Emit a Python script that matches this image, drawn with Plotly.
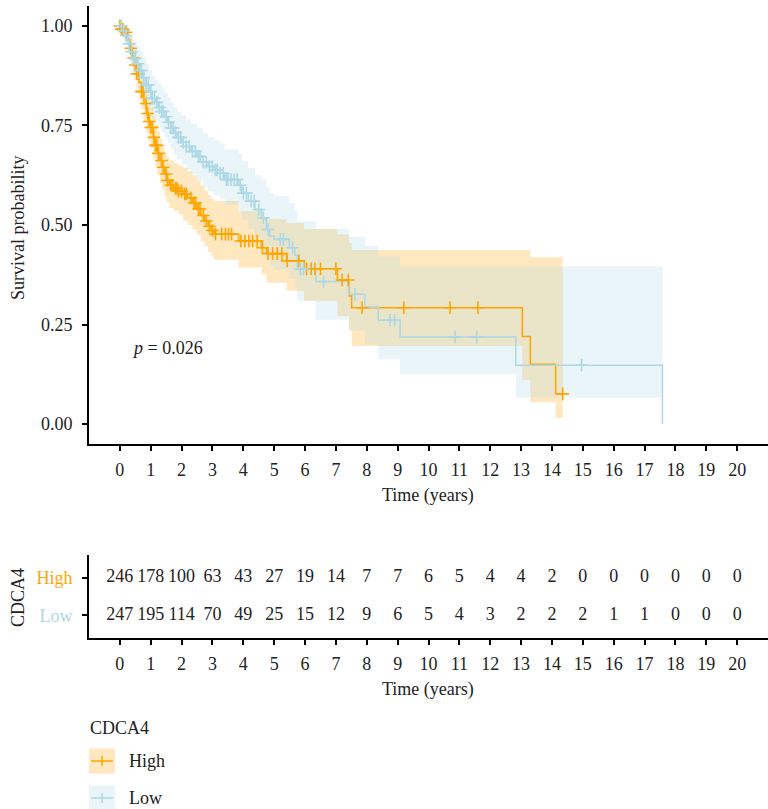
import plotly.graph_objects as go

# ---- Kaplan-Meier estimates: CDCA4 High ----
high_time = [0, 0.05, 0.15, 0.25, 0.32, 0.40, 0.46, 0.54, 0.62, 0.70, 0.78, 0.86, 0.93, 1.00,
             1.08, 1.15, 1.22, 1.30, 1.37, 1.45, 1.52, 1.60, 1.75, 1.90, 2.05, 2.20, 2.35, 2.50,
             2.62, 2.75, 2.86, 2.96, 3.05, 3.85, 4.59, 4.75, 5.40, 5.97, 7.05, 7.43, 7.51,
             13.04, 13.30, 14.12]
high_surv = [1.0, 0.992, 0.984, 0.965, 0.944, 0.92, 0.902, 0.88, 0.858, 0.835, 0.805, 0.78, 0.76, 0.745,
             0.72, 0.70, 0.68, 0.662, 0.645, 0.628, 0.612, 0.60, 0.592, 0.585, 0.578, 0.568, 0.556, 0.54,
             0.524, 0.51, 0.497, 0.486, 0.477, 0.46, 0.443, 0.428, 0.41, 0.39, 0.362, 0.322, 0.292,
             0.22, 0.15, 0.076]
high_upper = [1.0, 1.0, 0.998, 0.99, 0.975, 0.955, 0.94, 0.92, 0.90, 0.88, 0.855, 0.83, 0.81, 0.795,
              0.773, 0.753, 0.735, 0.717, 0.70, 0.685, 0.672, 0.662, 0.655, 0.649, 0.643, 0.635, 0.625, 0.612,
              0.598, 0.585, 0.575, 0.565, 0.56, 0.535, 0.52, 0.515, 0.505, 0.49, 0.476, 0.455, 0.437,
              0.437, 0.419, 0.419]
high_lower = [1.0, 0.977, 0.962, 0.937, 0.912, 0.885, 0.865, 0.84, 0.815, 0.79, 0.758, 0.73, 0.71, 0.693,
              0.667, 0.647, 0.625, 0.606, 0.59, 0.572, 0.556, 0.543, 0.535, 0.527, 0.51, 0.50, 0.488, 0.476,
              0.46, 0.447, 0.432, 0.42, 0.413, 0.393, 0.376, 0.355, 0.335, 0.31, 0.271, 0.235, 0.196,
              0.111, 0.055, 0.015]
high_end = 14.35
high_censor = [0.0, 0.05, 0.1, 0.2, 0.35, 0.45, 0.5, 0.55, 0.6, 0.7, 0.75, 0.85, 0.9, 0.95, 1.0, 1.05,
               1.1, 1.15, 1.2, 1.25, 1.35, 1.4, 1.5, 1.55, 1.65, 1.7, 1.8, 1.85, 1.9, 2.0, 2.1, 2.15,
               2.3, 2.4, 2.45, 2.55, 2.6, 2.7, 2.8, 2.9, 3.0, 3.1, 3.3, 3.42, 3.52, 3.62, 3.92, 4.05,
               4.18, 4.3, 4.45, 4.62, 4.8, 4.95, 5.1, 5.25, 5.42, 5.8, 6.05, 6.2, 6.32, 6.5, 7.0, 7.2,
               7.4, 7.85, 9.2, 10.7, 11.6, 14.35]

# ---- Kaplan-Meier estimates: CDCA4 Low ----
low_time = [0, 0.08, 0.15, 0.25, 0.35, 0.45, 0.55, 0.65, 0.75, 0.85, 0.95, 1.05, 1.15, 1.25, 1.35,
            1.45, 1.55, 1.65, 1.75, 1.85, 2.0, 2.15, 2.3, 2.5, 2.7, 2.86, 3.05, 3.25, 3.4, 3.85, 3.95,
            4.16, 4.38, 4.59, 4.75, 4.86, 5.0, 5.49, 5.67, 5.75, 6.35, 7.42, 7.94, 8.37, 9.08,
            12.83, 17.58]
low_surv = [1.0, 0.988, 0.976, 0.955, 0.935, 0.918, 0.905, 0.888, 0.87, 0.852, 0.835, 0.818, 0.808, 0.795,
            0.785, 0.772, 0.758, 0.744, 0.732, 0.72, 0.708, 0.697, 0.685, 0.672, 0.658, 0.647, 0.638, 0.63,
            0.614, 0.60, 0.58, 0.56, 0.539, 0.518, 0.489, 0.472, 0.464, 0.443, 0.424, 0.389, 0.358,
            0.326, 0.294, 0.261, 0.219, 0.148, 0.0]
low_upper = [1.0, 1.0, 0.995, 0.985, 0.97, 0.96, 0.95, 0.937, 0.922, 0.906, 0.89, 0.875, 0.865, 0.855,
             0.845, 0.833, 0.82, 0.807, 0.797, 0.785, 0.775, 0.765, 0.755, 0.743, 0.73, 0.72, 0.712, 0.705,
             0.69, 0.68, 0.66, 0.643, 0.625, 0.615, 0.595, 0.58, 0.573, 0.555, 0.535, 0.51, 0.49,
             0.47, 0.447, 0.42, 0.396, 0.396, None]
low_lower = [1.0, 0.975, 0.96, 0.93, 0.905, 0.885, 0.87, 0.85, 0.828, 0.808, 0.79, 0.77, 0.758, 0.745,
             0.733, 0.72, 0.705, 0.69, 0.677, 0.665, 0.652, 0.64, 0.627, 0.612, 0.597, 0.585, 0.575, 0.566,
             0.55, 0.535, 0.513, 0.49, 0.468, 0.445, 0.415, 0.397, 0.388, 0.365, 0.345, 0.31, 0.262,
             0.235, 0.2, 0.163, 0.125, 0.067, None]
low_end = 17.58
low_censor = [0.05, 0.12, 0.2, 0.3, 0.38, 0.45, 0.5, 0.58, 0.65, 0.7, 0.78, 0.85, 0.92, 1.0, 1.05, 1.12,
              1.2, 1.28, 1.35, 1.4, 1.5, 1.58, 1.65, 1.72, 1.8, 1.9, 1.97, 2.05, 2.15, 2.25, 2.35, 2.45,
              2.55, 2.6, 2.7, 2.8, 2.9, 3.0, 3.1, 3.15, 3.25, 3.35, 3.45, 3.5, 3.6, 3.7, 3.8, 3.9, 4.0,
              4.1, 4.25, 4.35, 4.5, 4.65, 4.8, 5.2, 5.3, 5.6, 5.85, 5.95, 6.6, 7.62, 8.75, 8.9, 10.86,
              11.56, 14.96]

# ---- Number at risk ----
years = list(range(0, 21))
risk_high = [246, 178, 100, 63, 43, 27, 19, 14, 7, 7, 6, 5, 4, 4, 2, 0, 0, 0, 0, 0, 0]
risk_low = [247, 195, 114, 70, 49, 25, 15, 12, 9, 6, 5, 4, 3, 2, 2, 2, 1, 1, 0, 0, 0]

p_label = "<i>p</i> = 0.026"

ORANGE = "#FFA500"
LBLUE = "#ADD8E6"
ORANGE_FILL = "rgba(255,165,0,0.25)"
LBLUE_FILL = "rgba(173,216,230,0.25)"
TXT = "#222222"
FONT = "Liberation Serif"
FS = 18

W, H = 768, 809


def px_x(p):
    return p / W


def px_y(p):
    return (H - p) / H


def step_at(times, vals, t):
    v = vals[0]
    for tt, vv in zip(times, vals):
        if tt <= t:
            v = vv
        else:
            break
    return v


def curve_xy(times, surv, end):
    xs, ys = list(times), list(surv)
    if end > xs[-1]:
        xs.append(end)
        ys.append(ys[-1])
    return xs, ys


def band_xy(times, upper, lower, end):
    xs = [t for t, u in zip(times, upper) if u is not None]
    up = [u for u in upper if u is not None]
    lo = [l for l in lower if l is not None]
    xs.append(end)
    up.append(up[-1])
    lo.append(lo[-1])
    return xs, up, lo


fig = go.Figure()

groups = [
    ("High", high_time, high_surv, high_upper, high_lower, high_end, high_censor, ORANGE, ORANGE_FILL),
    ("Low", low_time, low_surv, low_upper, low_lower, low_end, low_censor, LBLUE, LBLUE_FILL),
]

# confidence bands
for name, t, s, u, l, end, cens, col, fill in groups:
    bx, bu, bl = band_xy(t, u, l, end)
    fig.add_trace(go.Scatter(x=bx, y=bl, mode="lines", line=dict(width=0, shape="hv"),
                             hoverinfo="skip", showlegend=False, xaxis="x", yaxis="y"))
    fig.add_trace(go.Scatter(x=bx, y=bu, mode="lines", line=dict(width=0, shape="hv"),
                             fill="tonexty", fillcolor=fill, hoverinfo="skip",
                             showlegend=False, xaxis="x", yaxis="y"))

# survival curves
for name, t, s, u, l, end, cens, col, fill in groups:
    cx, cy = curve_xy(t, s, end)
    fig.add_trace(go.Scatter(x=cx, y=cy, mode="lines", line=dict(color=col, width=1.5, shape="hv"),
                             name=name, showlegend=False, xaxis="x", yaxis="y"))

# censoring marks
for name, t, s, u, l, end, cens, col, fill in groups:
    fig.add_trace(go.Scatter(x=cens, y=[step_at(t, s, c) for c in cens], mode="markers",
                             marker=dict(symbol="cross-thin", size=9, line=dict(color=col, width=1.6)),
                             showlegend=False, xaxis="x", yaxis="y"))

# risk table
fig.add_trace(go.Scatter(x=years, y=[1] * len(years), mode="text", text=[str(v) for v in risk_high],
                         textfont=dict(family=FONT, size=FS, color=TXT), showlegend=False,
                         xaxis="x2", yaxis="y2"))
fig.add_trace(go.Scatter(x=years, y=[0] * len(years), mode="text", text=[str(v) for v in risk_low],
                         textfont=dict(family=FONT, size=FS, color=TXT), showlegend=False,
                         xaxis="x2", yaxis="y2"))

axis_common = dict(showline=True, linecolor="black", linewidth=2, ticks="outside", ticklen=5,
                   tickwidth=2, tickcolor="black", showgrid=False, zeroline=False,
                   tickfont=dict(family=FONT, size=FS, color=TXT))

fig.update_layout(
    width=W, height=H, margin=dict(l=0, r=0, t=0, b=0),
    paper_bgcolor="white", plot_bgcolor="white", showlegend=False,
    font=dict(family=FONT, size=FS, color=TXT),
    xaxis=dict(domain=[px_x(89), 1.0], range=[-1, 21], tickvals=years, anchor="y",
               ticklabelstandoff=3, **axis_common),
    yaxis=dict(domain=[px_y(444), px_y(6)], range=[-0.05, 1.05], tickvals=[0, 0.25, 0.5, 0.75, 1.0],
               ticktext=["0.00", "0.25", "0.50", "0.75", "1.00"], anchor="x",
               ticklabelstandoff=6, **axis_common),
    xaxis2=dict(domain=[px_x(89), 1.0], range=[-1, 21], tickvals=years, anchor="y2",
                ticklabelstandoff=3, **axis_common),
    yaxis2=dict(domain=[px_y(638), px_y(555)], range=[-0.6, 1.6], tickvals=[1, 0],
                ticktext=[f"<span style='color:{ORANGE}'>High</span>",
                          f"<span style='color:{LBLUE}'>Low</span>"],
                anchor="x2", ticklabelstandoff=6, **axis_common),
)

ann = [
    dict(text="Survival probability", x=px_x(18), y=px_y(228), textangle=-90),
    dict(text="Time (years)", x=px_x(428), y=px_y(495)),
    dict(text="CDCA4", x=px_x(18), y=px_y(598), textangle=-90),
    dict(text="Time (years)", x=px_x(428), y=px_y(689)),
    dict(text="CDCA4", x=px_x(88), y=px_y(728), xanchor="left"),
    dict(text="High", x=px_x(127), y=px_y(761), xanchor="left"),
    dict(text="Low", x=px_x(127), y=px_y(798), xanchor="left"),
]
for a in ann:
    a.setdefault("xanchor", "center")
    fig.add_annotation(xref="paper", yref="paper", yanchor="middle", showarrow=False,
                       font=dict(family=FONT, size=FS, color=TXT), **a)

fig.add_annotation(xref="x", yref="y", x=0.33, y=0.19, text=p_label, xanchor="left", yanchor="middle",
                   showarrow=False, font=dict(family=FONT, size=FS, color=TXT))

# legend keys
for yc, col, fill in [(761, ORANGE, ORANGE_FILL), (798, LBLUE, LBLUE_FILL)]:
    fig.add_shape(type="rect", xref="paper", yref="paper", x0=px_x(89), x1=px_x(115),
                  y0=px_y(yc + 12.5), y1=px_y(yc - 12.5), fillcolor=fill, line=dict(width=0))
    fig.add_shape(type="line", xref="paper", yref="paper", x0=px_x(91), x1=px_x(113),
                  y0=px_y(yc), y1=px_y(yc), line=dict(color=col, width=1.5))
    fig.add_shape(type="line", xref="paper", yref="paper", x0=px_x(102), x1=px_x(102),
                  y0=px_y(yc + 5), y1=px_y(yc - 5), line=dict(color=col, width=1.5))

fig.write_html("out.html")
